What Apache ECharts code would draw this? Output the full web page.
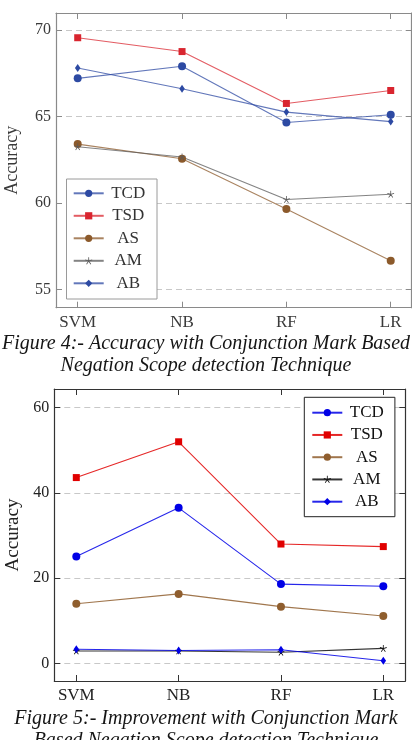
<!DOCTYPE html>
<html>
<head>
<meta charset="utf-8">
<script src="https://cdn.jsdelivr.net/npm/echarts@6/dist/echarts.min.js"></script>
<style>
html,body{margin:0;padding:0;background:#fff;}
#main{width:412px;height:740px;}
</style>
</head>
<body>
<div id="main"></div>
<script>
// ---- data ----
const categories = ['SVM', 'NB', 'RF', 'LR'];
const seriesNames = ['TCD', 'TSD', 'AS', 'AM', 'AB'];

// Figure 4: Accuracy
const accTCD = [67.2, 67.9, 64.65, 65.1];
const accTSD = [69.55, 68.75, 65.75, 66.5];
const accAS  = [63.4, 62.55, 59.65, 56.65];
const accAM  = [63.25, 62.65, 60.2, 60.5];
const accAB  = [67.8, 66.6, 65.25, 64.7];
const accTicks = [55, 60, 65, 70];

// Figure 5: Improvement
const impTCD = [25.1, 36.5, 18.6, 18.1];
const impTSD = [43.6, 52.0, 28.0, 27.4];
const impAS  = [14.0, 16.3, 13.3, 11.1];
const impAM  = [2.9, 2.9, 2.6, 3.5];
const impAB  = [3.3, 3.0, 3.2, 0.6];
const impTicks = [0, 20, 40, 60];

const caption1 = ['Figure 4:- Accuracy with Conjunction Mark Based', 'Negation Scope detection Technique'];
const caption2 = ['Figure 5:- Improvement with Conjunction Mark', 'Based Negation Scope detection Technique'];

// ---- styling ----
const FONT = 'Liberation Serif';
const catIdx = categories.map((c, i) => i);

// 5-spoke asterisk symbol
function starPath() {
  let p = '';
  const w = 0.11;
  for (let k = 0; k < 5; k++) {
    const a = (-90 + 72 * k) * Math.PI / 180;
    const c = Math.cos(a), s = Math.sin(a);
    const nx = -s * w, ny = c * w;
    const pts = [[nx, ny], [c + nx, s + ny], [c - nx, s - ny], [-nx, -ny]];
    p += 'M' + pts.map(q => (q[0] * 10).toFixed(3) + ' ' + (q[1] * 10).toFixed(3)).join(' L') + ' Z ';
  }
  return 'path://' + p;
}
const STAR = starPath();

const pal1 = {TCD: '#2d4aa3', TSD: '#d9252f', AS: '#8c5a2b', AM: '#5a5a5a', AB: '#2d4aa3'};
const pal2 = {TCD: '#0000e6', TSD: '#e00000', AS: '#8f5e2e', AM: '#111111', AB: '#0000e6'};
const sym = {TCD: 'circle', TSD: 'rect', AS: 'circle', AM: STAR, AB: 'diamond'};
const symSize = {TCD: 8, TSD: 7, AS: 8, AM: 7, AB: [5.5, 8]};

function xAxes(gridIndex, min, max, color, textColor) {
  return [
    {
      type: 'value', gridIndex, min, max, position: 'bottom',
      axisLine: {show: true, onZero: false, lineStyle: {color, width: 1.2}},
      axisTick: {show: true, inside: true, length: 6, customValues: catIdx, lineStyle: {color}},
      axisLabel: {show: true, customValues: catIdx, margin: 6, color: textColor,
        fontFamily: FONT, fontSize: 17, formatter: v => categories[Math.round(v)]},
      splitLine: {show: false}
    },
    {
      type: 'value', gridIndex, min, max, position: 'top',
      axisLine: {show: true, onZero: false, lineStyle: {color, width: 1.2}},
      axisTick: {show: true, inside: true, length: 6, customValues: catIdx, lineStyle: {color}},
      axisLabel: {show: false},
      splitLine: {show: false}
    }
  ];
}
function yAxes(gridIndex, min, max, ticks, color, textColor, nameSize, nameGap) {
  return [
    {
      type: 'value', gridIndex, min, max, position: 'left',
      name: 'Accuracy', nameLocation: 'middle', nameGap: nameGap, nameRotate: 90,
      nameTextStyle: {fontFamily: FONT, fontSize: nameSize, color: textColor},
      axisLine: {show: true, onZero: false, lineStyle: {color, width: 1.2}},
      axisTick: {show: true, inside: true, length: 6, customValues: ticks, lineStyle: {color}},
      axisLabel: {show: true, customValues: ticks, margin: 5, color: textColor,
        fontFamily: FONT, fontSize: 16},
      splitLine: {show: true, lineStyle: {color: '#c8c8c8', type: [6, 4], width: 1}}
    },
    {
      type: 'value', gridIndex, min, max, position: 'right',
      axisLine: {show: true, onZero: false, lineStyle: {color, width: 1.2}},
      axisTick: {show: true, inside: true, length: 6, customValues: ticks, lineStyle: {color}},
      axisLabel: {show: false},
      splitLine: {show: false}
    }
  ];
}

function makeSeries(name, values, pal, gridNo, lineOpacity, suffix) {
  return {
    type: 'line',
    name: name + suffix,
    xAxisIndex: gridNo * 2,
    yAxisIndex: gridNo * 2,
    data: values.map((v, i) => [catIdx[i], v]),
    symbol: sym[name],
    symbolSize: symSize[name],
    showSymbol: true,
    animation: false,
    itemStyle: {color: pal[name], opacity: 1},
    lineStyle: {color: pal[name], width: 1.1, opacity: lineOpacity},
    emphasis: {disabled: true},
    z: 3
  };
}

const accData = {TCD: accTCD, TSD: accTSD, AS: accAS, AM: accAM, AB: accAB};
const impData = {TCD: impTCD, TSD: impTSD, AS: impAS, AM: impAM, AB: impAB};

const series = [];
seriesNames.forEach(n => series.push(makeSeries(n, accData[n], pal1, 0, 0.75, '')));
seriesNames.forEach(n => series.push(makeSeries(n, impData[n], pal2, 1, 0.85, ' ')));

function legend(suffix, left, top, padding, border, textColor, textWidth, gap) {
  return {
    orient: 'vertical', left, top, padding,
    data: seriesNames.map(n => n + suffix),
    itemWidth: 30, itemHeight: 9, itemGap: gap,
    borderColor: border, borderWidth: 1, backgroundColor: '#fff',
    selectedMode: false,
    formatter: name => '{c|' + name.trim() + '}',
    textStyle: {
      lineHeight: 18,
      rich: {c: {width: textWidth, align: 'center', fontFamily: FONT, fontSize: 17, lineHeight: 18, color: textColor}}
    }
  };
}

function captionTitle(text, top) {
  return {text, left: 'center', top, padding: 0,
    textStyle: {fontFamily: FONT, fontStyle: 'italic', fontWeight: 'normal', fontSize: 20, lineHeight: 22, color: '#151515'}};
}

const option = {
  animation: false,
  backgroundColor: '#fff',
  title: [
    captionTitle(caption1[0], 333),
    captionTitle(caption1[1], 354.7),
    captionTitle(caption2[0], 708),
    captionTitle(caption2[1], 729.7)
  ],
  grid: [
    {left: 56, top: 13, width: 355.7, height: 294.7, containLabel: false, outerBoundsMode: 'none'},
    {left: 54.3, top: 389, width: 351, height: 292, containLabel: false, outerBoundsMode: 'none'}
  ],
  xAxis: [].concat(
    xAxes(0, -0.208, 3.201, '#8a8a8a', '#3a3a3a'),
    xAxes(1, -0.215, 3.215, '#333333', '#222222')
  ),
  yAxis: [].concat(
    yAxes(0, 53.94, 70.98, accTicks, '#8a8a8a', '#3a3a3a', 18, 34.5),
    yAxes(1, -4.15, 64.39, impTicks, '#333333', '#222222', 19, 32)
  ),
  legend: [
    legend('', 66.5, 179, [5.3, 9.3, 6.7, 6.2], '#9a9a9a', '#333', 39, 4.5),
    legend(' ', 304.3, 397.3, [6.4, 8.6, 6, 7], '#222', '#111', 39, 4.25)
  ],
  series
};

const chart = echarts.init(document.getElementById('main'), null, {renderer: 'canvas'});
chart.setOption(option);
</script>
</body>
</html>
